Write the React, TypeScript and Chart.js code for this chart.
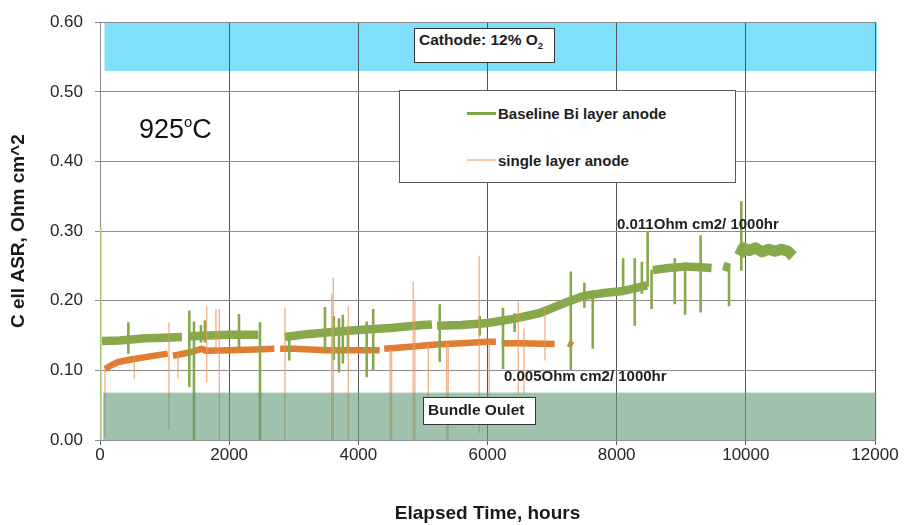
import React, { useEffect, useRef } from "react";
import { Chart, registerables } from "chart.js";

Chart.register(...registerables);

const FONT = "'Liberation Sans', Arial, Helvetica, sans-serif";
const GREEN = "#87a84b";
const ORANGE = "#e07d32";

// Axis ticks
const xTickStep = 2000;
const xRange = [0, 12000];
const yTickStep = 0.1;
const yRange = [0, 0.6];

// Baseline Bi layer anode: main trace (null = break in record)
const baselineHours = [30, 300, 700, 1000, 1270, 1320, 1370, 1700, 2000, 2300, 2450, 2650, 2860, 3200, 3600, 4000, 4500, 5000, 5140, 5180, 5220, 5600, 6000, 6400, 6800, 7200, 7500, 7800, 8100, 8470, 8510, 8560, 8800, 9060, 9300, 9470, 9560, 9650, 9750, 9820, 9900, 9960, 10050, 10150, 10250, 10350, 10450, 10550, 10650, 10730];
const baselineASR = [0.142, 0.143, 0.146, 0.147, 0.148, null, 0.149, 0.150, 0.151, 0.151, 0.151, null, 0.148, 0.152, 0.155, 0.158, 0.161, 0.165, 0.166, null, 0.164, 0.165, 0.168, 0.174, 0.182, 0.197, 0.207, 0.211, 0.214, 0.222, null, 0.244, 0.247, 0.249, 0.248, 0.247, null, 0.250, 0.247, null, 0.265, 0.276, 0.272, 0.276, 0.270, 0.274, 0.271, 0.274, 0.271, 0.264];

// Baseline Bi layer anode: excursions
const baselineSpikeHours = [439, 1383, 1455, 1563, 1625, 2152, 2477, 2930, 3483, 3620, 3700, 3760, 3840, 4130, 4230, 5260, 5880, 6240, 6420, 7290, 7500, 7630, 8100, 8280, 8390, 8480, 8540, 8900, 9060, 9300, 9740, 9930];
const baselineSpikeTop = [0.169, 0.186, 0.170, 0.165, 0.172, 0.181, 0.169, 0.152, 0.191, 0.178, 0.175, 0.180, 0.163, 0.170, 0.188, 0.195, 0.178, 0.190, 0.182, 0.242, 0.226, 0.215, 0.261, 0.261, 0.256, 0.300, 0.245, 0.261, 0.255, 0.294, 0.250, 0.343];
const baselineSpikeBottom = [0.124, 0.076, 0.0, 0.140, 0.140, 0.132, 0.0, 0.114, 0.126, 0.115, 0.097, 0.110, 0.125, 0.090, 0.100, 0.112, 0.150, 0.102, 0.155, 0.100, 0.190, 0.131, 0.210, 0.164, 0.210, 0.220, 0.188, 0.195, 0.180, 0.183, 0.192, 0.243];

// Start-up trace
const startupHours = [10];
const startupTop = [0.304];
const startupBottom = [0.0];

// Single layer anode: main trace
const singleHours = [77, 150, 280, 500, 700, 1050, 1090, 1130, 1400, 1570, 1650, 2000, 2400, 2700, 2750, 2790, 3000, 3500, 4000, 4330, 4370, 4400, 4800, 5200, 5600, 6000, 6130, 6180, 6220, 6500, 7040, 7150, 7250, 7320];
const singleASR = [0.102, 0.106, 0.112, 0.116, 0.119, 0.124, null, 0.121, 0.126, 0.131, 0.128, 0.129, 0.130, 0.131, null, 0.131, 0.131, 0.129, 0.129, 0.129, null, 0.131, 0.134, 0.137, 0.139, 0.141, 0.141, null, 0.139, 0.139, 0.138, null, 0.139, 0.136];

// Single layer anode: excursions
const singleSpikeHours = [77, 531, 1068, 1207, 1652, 1796, 1847, 2864, 3587, 3612, 3844, 4490, 4515, 4850, 4876, 5083, 5367, 5392, 5872, 6027, 6476, 6564, 6890];
const singleSpikeTop = [0.102, 0.120, 0.169, 0.125, 0.192, 0.188, 0.188, 0.190, 0.210, 0.233, 0.192, 0.130, 0.130, 0.228, 0.200, 0.140, 0.140, 0.140, 0.264, 0.140, 0.200, 0.160, 0.190];
const singleSpikeBottom = [0.003, 0.088, 0.014, 0.088, 0.083, 0.125, 0.0, 0.0, 0.0, 0.0, 0.0, 0.0, 0.0, 0.0, 0.0, 0.062, 0.0, 0.0, 0.010, 0.062, 0.066, 0.066, 0.114];

// Shaded regions (hours range, ASR range)
const cathodeBandHours = [70, 12000];
const cathodeBandASR = [0.53, 0.6];
const outletBandHours = [50, 12020];
const outletBandASR = [0, 0.068];

// Noisier stretch of the baseline trace (drawn with a wider band)
const noisyFromHours = 9900;

function trace(hours: number[], vals: (number | null)[]) {
  return hours.map((h, i) => ({ x: h, y: vals[i] }));
}

function spikes(hours: number[], top: number[], bottom: number[]) {
  const out: { x: number; y: number | null }[] = [];
  hours.forEach((h, i) => {
    out.push({ x: h, y: top[i] }, { x: h, y: bottom[i] }, { x: h, y: null });
  });
  return out;
}

const bandPlugin = {
  id: "bands",
  beforeDraw(chart: any) {
    const { ctx, scales } = chart;
    const xs = scales.x;
    const ys = scales.y;
    ctx.save();
    ctx.fillStyle = "#80e0fc";
    const x0 = xs.getPixelForValue(cathodeBandHours[0]);
    const x1 = xs.getPixelForValue(cathodeBandHours[1]) + 2;
    const y0 = ys.getPixelForValue(cathodeBandASR[1]);
    const y1 = ys.getPixelForValue(cathodeBandASR[0]);
    ctx.fillRect(x0, y0, x1 - x0, y1 - y0);
    ctx.restore();
  },
  afterDatasetsDraw(chart: any) {
    const { ctx, scales } = chart;
    const xs = scales.x;
    const ys = scales.y;
    ctx.save();
    ctx.fillStyle = "rgba(97,153,117,0.6)";
    const x0 = xs.getPixelForValue(outletBandHours[0]);
    const x1 = xs.getPixelForValue(outletBandHours[1]);
    const y0 = ys.getPixelForValue(outletBandASR[1]);
    const y1 = ys.getPixelForValue(outletBandASR[0]);
    ctx.fillRect(x0, y0, x1 - x0, y1 - y0);
    ctx.restore();
  },
};

function Label(props: { x: number; y: number; size: number; bold?: boolean; color?: string; children: any }) {
  return (
    <div
      style={{
        position: "absolute",
        left: props.x,
        top: props.y,
        transform: "translateY(-50%)",
        fontSize: props.size,
        lineHeight: 1,
        fontWeight: props.bold ? 700 : 400,
        whiteSpace: "nowrap",
        color: props.color || "#1e1e1e",
        fontFamily: FONT,
      }}
    >
      {props.children}
    </div>
  );
}

export default function App() {
  const canvasRef = useRef<HTMLCanvasElement | null>(null);

  useEffect(() => {
    const canvas = canvasRef.current;
    if (!canvas) return;
    const chart = new Chart(canvas, {
      type: "line",
      data: {
        datasets: [
          {
            label: "single spikes",
            data: spikes(singleSpikeHours, singleSpikeTop, singleSpikeBottom),
            borderColor: "rgba(236,150,90,0.7)",
            borderWidth: 1.4,
            order: 0,
          },
          {
            label: "baseline spikes",
            data: spikes(baselineSpikeHours, baselineSpikeTop, baselineSpikeBottom),
            borderColor: GREEN,
            borderWidth: 2.6,
            order: 1,
          },
          {
            label: "Baseline Bi layer anode",
            data: trace(baselineHours, baselineASR),
            borderColor: GREEN,
            borderWidth: 8.5,
            borderJoinStyle: "round",
            segment: {
              borderWidth: (c: any) => (c.p0.parsed.x >= noisyFromHours ? 11 : 8.5),
            },
            order: 2,
          },
          {
            label: "single layer anode",
            data: trace(singleHours, singleASR),
            borderColor: ORANGE,
            borderWidth: 6.5,
            borderJoinStyle: "round",
            order: 3,
          },
          {
            label: "startup",
            data: spikes(startupHours, startupTop, startupBottom),
            borderColor: "#a9c77a",
            borderWidth: 2,
            order: 4,
          },
        ] as any,
      },
      options: {
        animation: false,
        responsive: true,
        maintainAspectRatio: false,
        spanGaps: false,
        elements: {
          point: { radius: 0, hoverRadius: 0 },
          line: { tension: 0, borderCapStyle: "butt", borderJoinStyle: "bevel", fill: false },
        },
        layout: { padding: { top: 19, right: 29, left: 0, bottom: 0 } },
        plugins: { legend: { display: false }, tooltip: { enabled: false } },
        events: [],
        scales: {
          x: {
            type: "linear",
            min: xRange[0],
            max: xRange[1],
            ticks: {
              stepSize: xTickStep,
              font: { family: FONT, size: 17 },
              color: "#262626",
              padding: 0,
              maxRotation: 0,
              callback: (v: any) => String(Math.round(Number(v))),
            },
            grid: { color: "#555555", tickLength: 5 },
            border: { color: "#8c8c8c" },
            title: {
              display: true,
              text: "Elapsed Time, hours",
              font: { family: FONT, size: 19, weight: "bold" },
              color: "#1a1a1a",
              padding: { top: 0, bottom: 0 },
            },
            afterFit: (s: any) => {
              s.height = 85;
            },
          },
          y: {
            min: yRange[0],
            max: yRange[1],
            ticks: {
              stepSize: yTickStep,
              font: { family: FONT, size: 17 },
              color: "#262626",
              padding: 12,
              callback: (v: any) => Number(v).toFixed(2),
            },
            grid: { color: "#8c8c8c", tickLength: 5 },
            border: { color: "#8c8c8c" },
            title: {
              display: true,
              text: "C ell ASR, Ohm cm^2",
              font: { family: FONT, size: 19, weight: "bold" },
              color: "#1a1a1a",
              padding: { top: 7, bottom: 0 },
            },
            afterFit: (s: any) => {
              s.width = 100;
            },
          },
        } as any,
      },
      plugins: [bandPlugin],
    });
    return () => chart.destroy();
  }, []);

  return (
    <div style={{ position: "absolute", left: 0, top: 0, width: 904, height: 525, background: "#fff", fontFamily: FONT }}>
      <div style={{ position: "absolute", left: 0, top: 0, width: 904, height: 525 }}>
        <canvas ref={canvasRef} />
      </div>

      <div style={{ position: "absolute", left: 139, top: 129, transform: "translateY(-50%)", fontSize: 27, lineHeight: 1, fontFamily: FONT, color: "#111", whiteSpace: "nowrap" }}>
        925<span style={{ fontSize: "0.55em", position: "relative", top: "-0.75em" }}>o</span>C
      </div>

      <div style={{ position: "absolute", left: 414, top: 28, width: 141, height: 35, boxSizing: "border-box", border: "1px solid #333", background: "#fff" }}>
        <div style={{ position: "absolute", left: 4, top: 11, transform: "translateY(-50%)", fontSize: 15.5, lineHeight: 1, fontWeight: 700, whiteSpace: "nowrap", color: "#1e1e1e" }}>
          Cathode: 12% O<span style={{ fontSize: "0.62em", position: "relative", top: "0.45em" }}>2</span>
        </div>
      </div>

      <div style={{ position: "absolute", left: 399, top: 90, width: 337, height: 93, boxSizing: "border-box", border: "1px solid #5a5a5a", background: "#fff" }} />
      <div style={{ position: "absolute", left: 467, top: 111.5, width: 29, height: 3, background: "#7fa446" }} />
      <Label x={498} y={113} size={15} bold>Baseline Bi layer anode</Label>
      <div style={{ position: "absolute", left: 467, top: 159, width: 29, height: 2, background: "#f6c9a9" }} />
      <Label x={498} y={160} size={15} bold>single layer anode</Label>

      <Label x={617} y={222.5} size={15} bold color="#222">0.011Ohm cm2/ 1000hr</Label>
      <Label x={504} y={375} size={15} bold color="#222">0.005Ohm cm2/ 1000hr</Label>

      <div style={{ position: "absolute", left: 423, top: 397, width: 113, height: 28, boxSizing: "border-box", border: "1px solid #333", background: "#fff" }}>
        <div style={{ position: "absolute", left: 4, top: 12, transform: "translateY(-50%)", fontSize: 15.5, lineHeight: 1, fontWeight: 700, whiteSpace: "nowrap", color: "#1e1e1e" }}>
          Bundle Oulet
        </div>
      </div>
    </div>
  );
}
